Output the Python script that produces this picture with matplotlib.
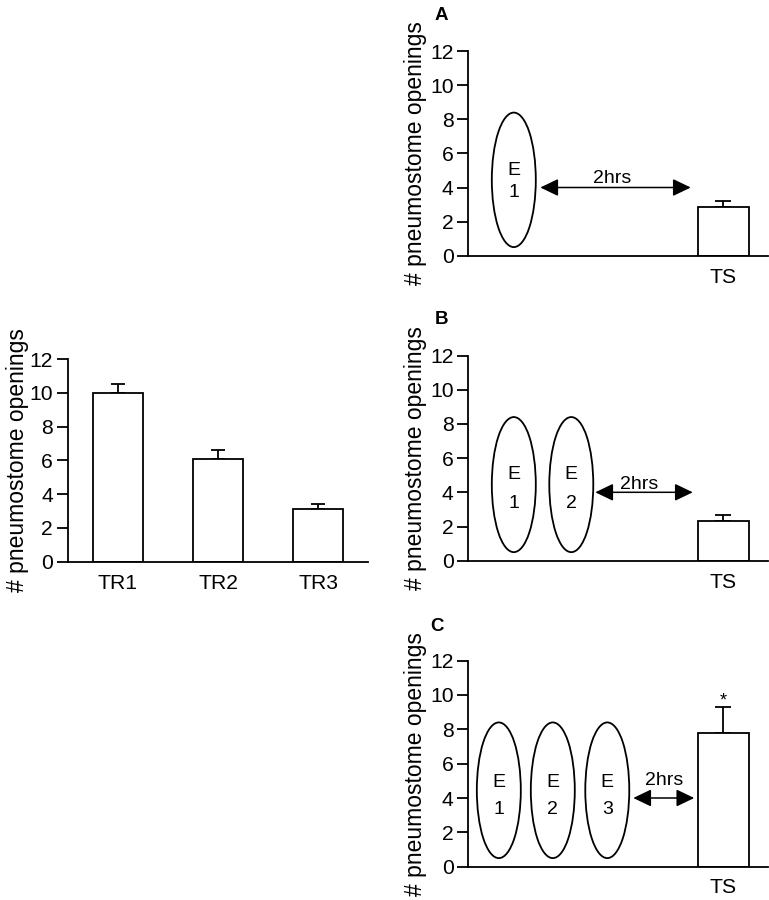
import matplotlib
matplotlib.use('Agg')
import matplotlib.pyplot as plt
from matplotlib.patches import Ellipse

plt.rcParams['font.family'] = ['Liberation Sans', 'DejaVu Sans']

# training trials
tr_labels = ['TR1', 'TR2', 'TR3']
tr_means = [10.0, 6.1, 3.1]
tr_errs = [0.55, 0.5, 0.32]

# test session after 1, 2, 3 training episodes
panel_names = ['A', 'B', 'C']
n_episodes = [1, 2, 3]
ts_means = [2.85, 2.3, 7.8]
ts_errs = [0.33, 0.35, 1.5]
ts_star = [False, False, True]

yticks = [0, 2, 4, 6, 8, 10, 12]
ylabel = '# pneumostome openings'

LW = 1.3
TICK_FS = 15.2
LABEL_FS = 16.5


def style_axes(ax, labelpad=2, xpad=9):
    ax.spines['top'].set_visible(False)
    ax.spines['right'].set_visible(False)
    ax.spines['left'].set_linewidth(LW)
    ax.spines['bottom'].set_linewidth(LW)
    ax.set_ylim(0, 12)
    ax.set_yticks(yticks)
    ax.tick_params(axis='y', length=8, width=LW, pad=2.5, labelsize=TICK_FS)
    ax.tick_params(axis='x', length=0, pad=xpad, labelsize=TICK_FS)
    ax.set_ylabel(ylabel, fontsize=LABEL_FS, labelpad=labelpad)


fig = plt.figure(figsize=(7.69, 9.0), dpi=100)

# left panel
ax = fig.add_axes([0.088, 0.376, 0.391, 0.225])
xs = range(len(tr_labels))
ax.bar(xs, tr_means, width=0.5, color='white', edgecolor='black', linewidth=LW, zorder=2)
ax.errorbar(xs, tr_means, yerr=[[0] * 3, tr_errs], fmt='none', ecolor='black',
            elinewidth=LW, capsize=4.7, capthick=LW, zorder=1)
ax.set_xlim(-0.5, 2.5)
ax.set_xticks(list(xs))
ax.set_xticklabels(tr_labels)
style_axes(ax, labelpad=0.5)

# right panels
rects = [[0.609, 0.716, 0.390, 0.227],
         [0.609, 0.377, 0.390, 0.228],
         [0.609, 0.037, 0.390, 0.229]]
ell_x = {1: [0.86], 2: [0.86, 2.01], 3: [0.56, 1.64, 2.73]}
ell_text = {1: (4.37, 1.4), 2: (4.2, 1.95), 3: (4.12, 1.8)}
arrow_x = {1: (1.39, 4.4), 2: (2.49, 4.44), 3: (3.25, 4.47)}
hrs_pos = {1: (2.83, 4.55), 2: (3.36, 4.45), 3: (3.87, 4.99)}
letter_pos = [(-0.089, 1.175), (-0.089, 1.175), (-0.106, 1.165)]

for i, rect in enumerate(rects):
    ax = fig.add_axes(rect)
    n = n_episodes[i]
    ax.bar([5.05], [ts_means[i]], width=1.03, color='white', edgecolor='black',
           linewidth=LW, zorder=2)
    ax.errorbar([5.05], [ts_means[i]], yerr=[[0], [ts_errs[i]]], fmt='none', ecolor='black',
                elinewidth=LW, capsize=5.5, capthick=LW, zorder=1)
    if ts_star[i]:
        ax.text(5.05, 9.4, '*', ha='center', va='baseline', fontsize=13)
    ax.set_xlim(-0.05, 5.95)
    ax.set_xticks([5.05])
    ax.set_xticklabels(['TS'])
    style_axes(ax, xpad=8 if i == 2 else 9)

    ty, ls = ell_text[n]
    for k in range(n):
        cx = ell_x[n][k]
        ax.add_patch(Ellipse((cx, 4.45), 0.88, 7.9, facecolor='none', edgecolor='black',
                             linewidth=LW, clip_on=False))
        ax.text(cx, ty, 'E\n%d' % (k + 1), ha='center', va='center', fontsize=14,
                linespacing=ls)

    x0, x1 = arrow_x[n]
    ax.annotate('', xy=(x1, 4.0), xytext=(x0, 4.0),
                arrowprops=dict(arrowstyle='<|-|>,head_length=1.0,head_width=0.48',
                                mutation_scale=11, color='black', lw=1.1,
                                shrinkA=0, shrinkB=0))
    hx, hy = hrs_pos[n]
    ax.text(hx, hy, '2hrs', ha='center', va='center', fontsize=14)

    lx, ly = letter_pos[i]
    ax.text(lx, ly, panel_names[i], transform=ax.transAxes, fontsize=13.5,
            fontweight='bold', ha='center', va='center')

fig.savefig('out.png', dpi=100)
